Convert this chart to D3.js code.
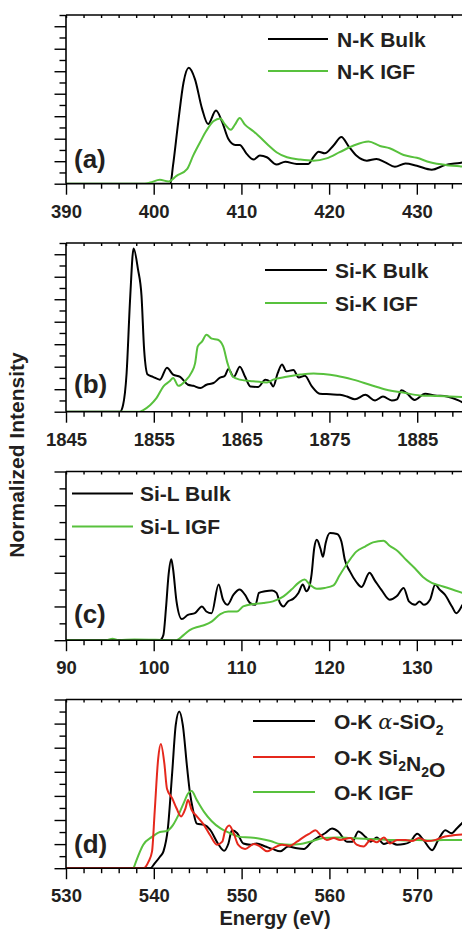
<!DOCTYPE html>
<html>
<head>
<meta charset="utf-8">
<script src="https://cdn.jsdelivr.net/npm/d3@7"></script>
<style>
    body { margin: 0; background: #fff; }
    svg text { font-family: "Liberation Sans", Arial, Helvetica, sans-serif; font-weight: bold; fill: #231f20; }
</style>
</head>
<body>
<svg id="chart" width="462" height="934"></svg>
<script>
// ---- data: [energy (eV), intensity (arb. units)] ----
var nkBulk = [[390,0],[401.9,0],[402.2,1.6],[402.8,5.5],[403.4,9.0],[404.0,10.3],[404.7,9.3],[405.5,6.7],[406.2,5.3],
    [407.1,6.5],[407.8,5.5],[408.5,4.0],[409.3,3.45],[409.8,3.45],[410.6,2.65],[411.4,2.15],[412.1,2.5],[412.9,2.35],
    [414.0,1.7],[415.0,1.95],[416.3,1.75],[417.6,1.75],[418.2,2.35],[418.8,2.85],[419.5,2.7],[420.5,3.4],[421.4,4.15],
    [422.2,3.35],[423.1,2.5],[424.3,2.05],[425.4,2.2],[426.4,1.9],[427.5,1.5],[428.7,1.8],[430.0,1.6],[431.7,1.25],
    [433.2,1.65],[434.9,1.85],[435.3,1.9]];
var nkIgf = [[390,0],[399.0,0],[399.6,0.1],[400.7,0.35],[401.7,0.2],[402.6,0.7],[403.8,1.3],[404.5,2.5],[405.3,3.7],
    [406.0,4.7],[406.8,5.55],[407.6,5.8],[408.1,5.3],[408.8,4.8],[409.3,5.3],[409.8,5.85],[410.4,5.25],[411.4,4.65],
    [412.1,4.15],[413.1,3.4],[414.0,2.8],[415.2,2.35],[416.7,2.15],[418.2,2.05],[419.7,2.25],[421.2,2.8],[422.8,3.4],
    [424.5,3.75],[425.8,3.35],[426.9,3.15],[428.5,2.55],[430.0,2.3],[431.5,1.9],[433.4,1.65],[434.9,1.55],[435.3,1.5]];

var sikBulk = [[1845,0],[1851.15,0],[1851.5,0.6],[1851.9,3.4],[1852.3,10.0],[1852.7,14.5],[1853.2,12.65],[1853.6,10.3],
    [1853.9,5.5],[1854.3,3.3],[1854.9,3.1],[1855.7,2.85],[1856.5,3.9],[1857.2,3.3],[1858.0,3.1],[1858.9,2.4],[1859.5,2.3],
    [1860.3,2.1],[1861.0,2.4],[1861.8,2.55],[1862.5,3.0],[1863.1,3.2],[1863.5,3.8],[1864.1,3.1],[1864.8,4.0],[1865.4,3.1],
    [1866.0,2.25],[1866.9,2.2],[1867.7,2.85],[1868.2,2.7],[1868.6,2.25],[1869.1,3.4],[1869.6,4.2],[1870.1,3.6],[1870.9,3.7],
    [1871.5,3.05],[1872.2,3.2],[1873.0,2.25],[1873.9,1.6],[1875.1,1.55],[1876.2,1.5],[1877.0,1.35],[1877.9,1.1],[1879.1,1.5],
    [1880.2,1.0],[1881.1,1.35],[1882.1,1.0],[1882.7,1.1],[1883.2,1.9],[1883.8,1.65],[1884.7,1.05],[1885.9,1.6],[1887.0,1.45],
    [1888.4,1.35],[1889.7,1.0],[1890.2,0.8]];
var sikIgf = [[1845,0],[1853.35,0],[1853.8,0.15],[1854.6,0.6],[1855.3,1.2],[1856.1,2.25],[1856.8,2.7],[1857.2,3.0],
    [1857.8,2.3],[1858.6,2.75],[1859.3,3.5],[1859.7,4.3],[1860.0,5.8],[1860.5,6.25],[1861.0,6.85],[1861.6,6.5],[1862.3,6.4],
    [1862.9,5.8],[1863.4,4.3],[1864.0,3.1],[1864.8,2.85],[1866.3,2.7],[1867.9,2.6],[1868.6,2.85],[1870.1,3.1],[1871.7,3.3],
    [1873.2,3.4],[1874.3,3.35],[1875.8,3.2],[1877.7,2.85],[1879.6,2.4],[1881.5,1.95],[1883.4,1.7],[1885.3,1.45],[1887.2,1.4],
    [1888.7,1.35],[1890.2,1.3]];

var silBulk = [[90,0],[100.7,0],[101.1,0.3],[101.4,1.9],[101.7,3.9],[102.0,4.8],[102.2,4.25],[102.6,2.3],[103.2,1.25],
    [103.9,1.5],[104.7,1.6],[105.5,2.0],[106.0,1.7],[106.6,1.6],[107.4,3.3],[107.9,2.4],[108.4,2.1],[109.1,2.7],[109.8,3.0],
    [110.4,2.7],[111.0,2.2],[111.6,2.1],[112.0,2.8],[112.7,2.9],[113.5,2.95],[114.0,2.8],[114.4,2.2],[114.8,2.0],[115.3,2.3],
    [115.9,2.45],[116.5,2.8],[117.0,3.3],[117.4,2.9],[117.7,3.1],[118.0,3.9],[118.3,5.45],[118.6,5.95],[119.0,5.45],
    [119.3,4.95],[119.6,5.75],[120.1,6.35],[120.9,6.3],[121.4,5.85],[121.8,4.75],[122.4,4.05],[123.1,3.45],[123.7,3.15],
    [124.6,4.0],[125.2,3.55],[126.0,2.95],[126.9,2.4],[127.7,2.6],[128.5,3.1],[129.1,2.3],[129.8,2.1],[130.3,2.3],[130.8,2.1],
    [131.5,2.4],[132.1,3.3],[132.6,3.0],[133.2,2.7],[134.0,2.0],[134.5,1.6],[135.2,2.1]];
var silIgf = [[90,0],[94.6,0],[95.3,0.08],[96.0,0],[97.8,0.04],[102.6,0],[103.4,0.3],[104.1,0.6],[105.1,0.8],[105.8,0.9],
    [106.6,1.1],[107.6,1.55],[108.5,1.7],[109.5,1.7],[110.2,2.0],[111.4,2.15],[112.5,2.2],[113.6,2.3],[114.8,2.6],
    [115.7,3.0],[116.5,3.4],[117.2,3.6],[117.8,3.3],[118.6,3.05],[119.5,3.1],[120.5,3.25],[121.2,3.85],[122.2,4.65],
    [123.1,5.25],[124.1,5.55],[125.0,5.8],[126.2,5.9],[126.9,5.6],[127.9,5.25],[128.8,4.75],[129.8,4.25],[130.7,3.75],
    [131.7,3.4],[132.6,3.25],[133.8,3.05],[135.2,2.8]];

var okQuartz = [[530,0],[539.6,0],[540.1,0.4],[540.7,0.95],[541.1,1.4],[541.6,3.3],[542.1,8.0],[542.5,11.9],[542.9,13.0],
    [543.3,11.9],[543.8,8.3],[544.1,6.35],[544.5,4.7],[544.9,3.7],[545.7,3.6],[546.4,3.2],[547.3,2.05],[548.0,1.45],
    [548.5,2.05],[548.9,3.15],[549.5,2.9],[550.2,2.05],[551.0,1.95],[551.7,2.05],[552.7,1.8],[553.5,1.6],[554.4,1.4],
    [555.3,1.8],[556.3,1.65],[557.1,1.6],[558.0,2.2],[558.8,2.6],[559.5,2.9],[560.3,3.3],[561.0,3.05],[562.0,2.2],
    [562.6,2.2],[563.3,3.05],[564.1,2.6],[564.7,2.2],[565.4,2.55],[566.2,2.0],[566.9,2.15],[567.7,1.95],[568.5,2.0],
    [569.2,2.2],[570.0,2.85],[570.7,2.35],[571.7,1.5],[572.4,2.35],[573.2,3.15],[573.9,2.9],[574.5,3.3],[575.2,3.8]];
var okSi2n2o = [[530,0],[538.8,0],[539.4,0.55],[539.8,1.4],[540.1,4.7],[540.5,9.1],[540.8,10.3],[541.2,8.7],[541.5,6.6],
    [542.1,5.8],[542.6,4.95],[543.1,4.3],[543.6,4.95],[543.9,5.65],[544.3,4.85],[544.9,4.3],[545.7,3.6],[546.4,2.75],
    [547.2,1.95],[547.8,2.2],[548.1,3.05],[548.6,3.55],[549.1,2.9],[549.6,1.95],[550.4,1.6],[551.4,2.0],[552.1,1.8],
    [552.9,1.4],[553.6,1.65],[554.6,1.95],[555.5,1.85],[556.3,2.2],[557.1,2.6],[557.8,2.9],[558.4,3.15],[559.0,2.75],
    [559.7,2.35],[560.5,2.5],[561.2,2.35],[562.4,2.5],[563.1,1.95],[563.9,1.8],[564.7,2.35],[565.4,2.15],[566.2,2.55],
    [566.9,2.05],[567.7,2.35],[568.7,2.35],[569.4,2.25],[570.2,2.5],[571.1,2.25],[572.1,2.35],[572.8,2.55],[573.8,2.7],
    [575.2,2.8]];
var okIgf = [[537.7,0],[538.1,0.8],[538.8,1.95],[539.8,2.6],[540.7,3.0],[541.5,3.1],[542.2,3.6],[542.8,4.4],[543.4,5.4],
    [543.9,6.2],[544.3,6.4],[544.9,5.65],[545.7,4.7],[546.6,3.9],[547.6,3.3],[548.7,2.9],[549.8,2.6],[551.0,2.55],
    [552.1,2.45],[553.3,2.25],[554.4,2.0],[555.5,1.95],[556.7,2.0],[557.8,2.2],[559.3,2.5],[560.9,2.55],[562.4,2.5],
    [563.9,2.45],[565.4,2.4],[566.9,2.35],[568.5,2.3],[570.0,2.35],[571.5,2.3],[573.0,2.35],[575.2,2.35]];

// tick labels on each energy axis
var ticksA = [390, 400, 410, 420, 430];
var ticksB = [1845, 1855, 1865, 1875, 1885];
var ticksC = [90, 100, 110, 120, 130];
var ticksD = [530, 540, 550, 560, 570];

var black = "#000000", green = "#58c13d", red = "#e5281c";

var panels = [
    {tag: "(a)", top: 15, x0: 390, x1: 435.15, yMax: 15, ticks: ticksA, tagDy: 15.5,
        series: [[nkBulk, black, "N-K Bulk"], [nkIgf, green, "N-K IGF"]],
        leg: {x1: 268, x2: 328, tx: 337, ys: [24, 56]}},
    {tag: "(b)", top: 243, x0: 1845, x1: 1890.1, yMax: 15, ticks: ticksB, tagDy: 19,
        series: [[sikBulk, black, "Si-K Bulk"], [sikIgf, green, "Si-K IGF"]],
        leg: {x1: 265, x2: 327, tx: 335, ys: [27, 60]}},
    {tag: "(c)", top: 471.5, x0: 90, x1: 135.15, yMax: 10, ticks: ticksC, tagDy: 17,
        series: [[silBulk, black, "Si-L Bulk"], [silIgf, green, "Si-L IGF"]],
        leg: {x1: 72, x2: 133, tx: 140, ys: [22, 55]}},
    {tag: "(d)", top: 699.5, x0: 530, x1: 575.1, yMax: 14, ticks: ticksD, tagDy: 15.5,
        series: [[okQuartz, black, "O-K \u03b1-SiO_2"], [okIgf, green, "O-K IGF"], [okSi2n2o, red, "O-K Si_2N_2O"]],
        legOrder: [0, 2, 1],
        leg: {x1: 253, x2: 315, tx: 334, ys: [21.5, 57.5, 92.5]}}
];

var left = 66, right = 462, plotH = 168.7;
var svg = d3.select("#chart");

panels.forEach(function (p, pi) {
    var bottom = p.top + plotH;
    var x = d3.scaleLinear().domain([p.x0, p.x1]).range([left, right]);
    var y = d3.scaleLinear().domain([0, p.yMax]).range([bottom, p.top]);
    var g = svg.append("g").attr("class", "panel");

    g.append("clipPath").attr("id", "clip" + pi)
        .append("rect").attr("x", left).attr("y", p.top - 10)
        .attr("width", right - left).attr("height", plotH + 10);

    var line = d3.line()
        .x(function (d) { return x(d[0]); })
        .y(function (d) { return y(d[1]); })
        .curve(d3.curveMonotoneX);

    // draw order: black first, then others
    p.series.forEach(function (s) {
        g.append("path")
            .datum(s[0])
            .attr("clip-path", "url(#clip" + pi + ")")
            .attr("fill", "none")
            .attr("stroke", s[1])
            .attr("stroke-width", 2)
            .attr("stroke-linejoin", "round")
            .attr("d", line);
    });

    // x minor ticks every 2 eV
    var minor = d3.range(p.x0, p.x1 + 0.01, 2).filter(function (v) { return p.ticks.indexOf(v) < 0; });
    g.append("g").attr("transform", "translate(0," + bottom + ")")
        .call(d3.axisBottom(x).tickValues(minor).tickSize(5).tickFormat(""))
        .call(function (a) { a.select(".domain").remove(); });
    g.append("g").attr("class", "xmajor").attr("transform", "translate(0," + bottom + ")")
        .call(d3.axisBottom(x).tickValues(p.ticks).tickSize(11).tickPadding(10).tickFormat(d3.format("d")))
        .call(function (a) { a.select(".domain").remove(); })
        .selectAll("text").style("font-size", "18.5px").attr("fill", "#231f20");

    // top border with small inward ticks
    g.append("g").attr("transform", "translate(0," + p.top + ")")
        .call(d3.axisTop(x).tickValues(d3.range(p.x0, p.x1 + 0.01, 2)).tickSize(-3).tickFormat(""))
        .call(function (a) { a.select(".domain").remove(); });

    // y ticks: minor every unit, major every 2
    var yMinor = d3.range(1, p.yMax + 1, 2);
    var yMajor = d3.range(0, p.yMax + 1, 2);
    g.append("g").attr("transform", "translate(" + left + ",0)")
        .call(d3.axisLeft(y).tickValues(yMinor).tickSize(6.5).tickFormat(""))
        .call(function (a) { a.select(".domain").remove(); });
    g.append("g").attr("transform", "translate(" + left + ",0)")
        .call(d3.axisLeft(y).tickValues(yMajor).tickSize(11.5).tickFormat(""))
        .call(function (a) { a.select(".domain").remove(); });

    // frame lines
    g.append("line").attr("x1", left).attr("x2", right).attr("y1", bottom).attr("y2", bottom);
    g.append("line").attr("x1", left).attr("x2", right).attr("y1", p.top).attr("y2", p.top);
    g.append("line").attr("x1", left).attr("x2", left).attr("y1", p.top).attr("y2", bottom);
    g.selectAll("line").attr("stroke", "#000").attr("stroke-width", 1.6);
    g.selectAll(".tick line").attr("stroke-width", 1.4);

    // panel tag
    g.append("text").attr("x", 74).attr("y", bottom - p.tagDy)
        .style("font-size", "26px").text(p.tag);

    // legend
    var order = p.legOrder || d3.range(p.series.length);
    order.forEach(function (si, k) {
        var s = p.series[si];
        var ly = p.top + p.leg.ys[k];
        g.append("line").attr("x1", p.leg.x1).attr("x2", p.leg.x2)
            .attr("y1", ly).attr("y2", ly)
            .attr("stroke", s[1]).attr("stroke-width", 2);
        var t = g.append("text").attr("x", p.leg.tx).attr("y", ly + 7.5).style("font-size", "21px");
        var parts = s[2].split(/_(\d)/);
        parts.forEach(function (part, j) {
            if (j % 2 === 1) {
                t.append("tspan").attr("dy", 6).style("font-size", "14px").text(part);
                t.append("tspan").attr("dy", -6).text("");
            } else if (part.indexOf("\u03b1") >= 0) {
                var bits = part.split("\u03b1");
                t.append("tspan").text(bits[0]);
                t.append("tspan").style("font-weight", "normal")
                    .style("font-family", "'DejaVu Serif', serif").style("font-style", "italic").text("\u03b1");
                t.append("tspan").text(bits[1]);
            } else {
                t.append("tspan").text(part);
            }
        });
    });
});

// axis titles
svg.append("text").attr("x", 275).attr("y", 925).attr("text-anchor", "middle")
    .style("font-size", "20px").text("Energy (eV)");
svg.append("text").attr("transform", "translate(24,455) rotate(-90)").attr("text-anchor", "middle")
    .style("font-size", "21px").text("Normalized Intensity");
</script>
</body>
</html>
